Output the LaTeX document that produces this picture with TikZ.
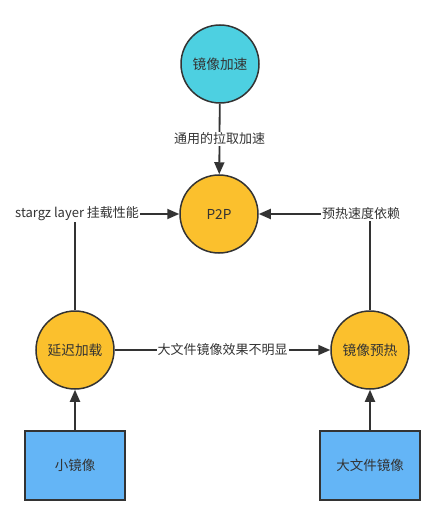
\documentclass[tikz,border=0pt]{standalone}
\usepackage{fontspec}
\setmainfont{Noto Sans CJK SC}
\usepackage{tikz}
\usetikzlibrary{arrows.meta}
\usepackage{xcolor}

\definecolor{linegray}{HTML}{333333}
\definecolor{accelcyan}{HTML}{4DD0E1}
\definecolor{loadorange}{HTML}{FBC02D}
\definecolor{imageblue}{HTML}{64B5F6}

\tikzset{
  circnode/.style={circle, draw=linegray, line width=1.5pt, minimum size=78pt, inner sep=0pt, font=\fontsize{13.7}{15}\selectfont, text=linegray},
  imgbox/.style={rectangle, draw=linegray, line width=2pt, fill=imageblue, minimum width=100pt, minimum height=69pt, font=\fontsize{13.5}{15}\selectfont, text=linegray},
  conn/.style={draw=linegray, line width=1.8pt, -{Triangle[length=12pt,width=10pt]}},
  lbl/.style={fill=white, inner sep=1pt, font=\fontsize{13}{15}\selectfont, text=linegray}
}

\begin{document}
\begin{tikzpicture}[x=1pt, y=-1pt]

% Frame
\useasboundingbox (0, 0) rectangle (445, 526);

% Nodes
\node[circnode, fill=accelcyan] (accel) at (220, 64) {镜像加速};
\node[circnode, fill=loadorange] (p2p) at (219, 214) {P2P};
\node[circnode, fill=loadorange] (lazy) at (75, 350) {延迟加载};
\node[circnode, fill=loadorange] (warm) at (370, 350) {镜像预热};
\node[imgbox] (small) at (75, 465) {小镜像};
\node[imgbox] (large) at (370, 465) {大文件镜像};

% Connectors
\draw[conn] (accel) -- node[lbl, pos=.5] {通用的拉取加速} (p2p);
\draw[conn] (lazy) |- node[lbl, pos=.51] {stargz layer 挂载性能} (p2p);
\draw[conn] (warm) |- node[lbl, pos=.54] {预热速度依赖} (p2p);
\draw[conn] (lazy) -- node[lbl, pos=.5] {大文件镜像效果不明显} (warm);
\draw[conn] (small) -- (lazy);
\draw[conn] (large) -- (warm);

\end{tikzpicture}
\end{document}
